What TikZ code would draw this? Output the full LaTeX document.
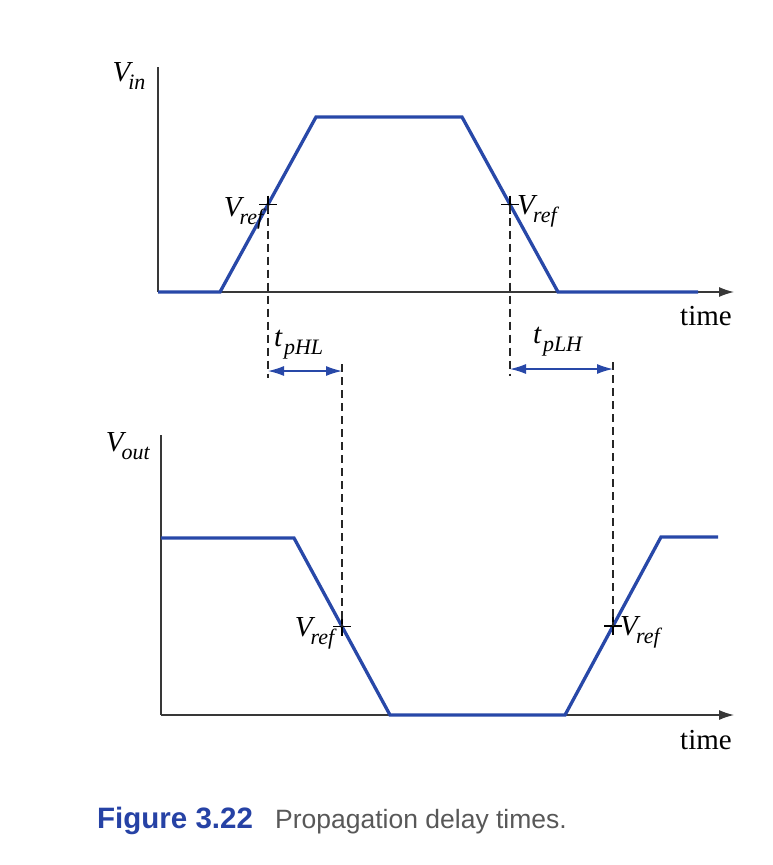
\documentclass[tikz,border=0pt]{standalone}
\usepackage{fontspec}
\setmainfont{Liberation Serif}
\setsansfont{Liberation Sans}
\usetikzlibrary{arrows.meta, calc}
\definecolor{WaveBlue}{RGB}{40,72,168}
\definecolor{CaptionBlue}{RGB}{38,66,165}
\definecolor{CaptionGray}{RGB}{88,88,88}
\newcommand{\sig}[3][-0.16em]{\textit{#2\/}\kern#1\raisebox{-0.28em}{\fontsize{22}{22}\selectfont\textit{#3}}}

\begin{document}
\begin{tikzpicture}[x=1pt, y=-1pt, font=\fontsize{29}{32}\selectfont]
    \tikzset{
        axis/.style={draw=black!78, line width=1.3pt},
        timeaxis/.style={axis, -{Latex[length=15pt, width=10pt]}},
        wave/.style={draw=WaveBlue, line width=3.3pt, line join=miter},
        guide/.style={draw=black!85, line width=1.3pt, dash pattern=on 8pt off 5pt},
        delay/.style={draw=WaveBlue, line width=1.3pt,
            {Latex[length=16pt, width=10pt]}-{Latex[length=16pt, width=10pt]}},
        refmark/.style={draw=black, line width=1.1pt},
        lbl/.style={inner sep=0pt}
    }
    \useasboundingbox (0,0) rectangle (772,865);
    % input signal
    \coordinate (inTop) at (158,67);
    \coordinate (inO) at (158,292);
    \coordinate (inEnd) at (734,292);
    \coordinate (inA) at (220,292);
    \coordinate (inB) at (316,117);
    \coordinate (inC) at (462,117);
    \coordinate (inD) at (558,292);
    \coordinate (inF) at (698,292);
    \coordinate (vr1) at ($(inA)!0.5!(inB)$);
    \coordinate (vr2) at ($(inC)!0.5!(inD)$);
    \draw[axis] (inTop) -- (inO);
    \draw[timeaxis] (inO) -- (inEnd);
    \draw[wave] (inO) -- (inA) -- (inB) -- (inC) -- (inD) -- (inF);
    \node[lbl] (vin) at (129,76) {\sig{V}{in}};
    \node[lbl] (time1) at (706,316) {time};
    % output signal
    \coordinate (outTop) at (161,435);
    \coordinate (outO) at (161,715);
    \coordinate (outEnd) at (734,715);
    \coordinate (outS) at (161,538);
    \coordinate (outA) at (294,538);
    \coordinate (outB) at (390,715);
    \coordinate (outC) at (565,715);
    \coordinate (outD) at (661,537);
    \coordinate (outF) at (718,537);
    \coordinate (vr3) at ($(outA)!0.5!(outB)$);
    \coordinate (vr4) at ($(outC)!0.5!(outD)$);
    \draw[axis] (outTop) -- (outO);
    \draw[timeaxis] (outO) -- (outEnd);
    \draw[wave] (outS) -- (outA) -- (outB) -- (outC) -- (outD) -- (outF);
    \node[lbl] (vout) at (128,446) {\sig{V}{out}};
    \node[lbl] (time2) at (706,740) {time};
    % reference crossings
    \draw[refmark] (vr1) +(-9,0) -- +(9,0) +(0,-9) -- +(0,9);
    \draw[refmark] (vr2) +(-9,0) -- +(9,0) +(0,-9) -- +(0,9);
    \draw[refmark] (vr3) +(-9,0) -- +(9,0) +(0,-9) -- +(0,9);
    \draw[refmark] (vr4) +(-9,0) -- +(9,0) +(0,-9) -- +(0,9);
    \node[lbl, anchor=base east] (ref1) at ($(vr1)+(-2,12)$) {\sig{V}{ref}};
    \node[lbl, anchor=base west] (ref2) at ($(vr2)+(7,10)$) {\sig{V}{ref}};
    \node[lbl, anchor=base east] (ref3) at ($(vr3)+(-5,10)$) {\sig{V}{ref}};
    \node[lbl, anchor=base west] (ref4) at ($(vr4)+(7,9)$) {\sig{V}{ref}};
    % delay markers
    \coordinate (hlA) at (vr1 |- 0,371);
    \coordinate (hlB) at (vr3 |- 0,371);
    \coordinate (lhA) at (vr2 |- 0,369);
    \coordinate (lhB) at (vr4 |- 0,369);
    \draw[guide] (vr1) -- ($(hlA)+(0,7)$);
    \draw[guide] ($(hlB)+(0,-7)$) -- (vr3);
    \draw[guide] (vr2) -- ($(lhA)+(0,7)$);
    \draw[guide] ($(lhB)+(0,-7)$) -- (vr4);
    \draw[delay] (hlA) -- (hlB);
    \draw[delay] (lhA) -- (lhB);
    \node[lbl, anchor=base west] (tphl) at (274,346) {\sig[0.04em]{t}{pHL}};
    \node[lbl, anchor=base west] (tplh) at (533,343) {\sig[0.04em]{t}{pLH}};
    % caption
    \node[lbl, anchor=base west, font=\sffamily\bfseries\fontsize{29.5}{32}\selectfont,
        text=CaptionBlue] (capnum) at (97,828) {Figure 3.22};
    \node[lbl, anchor=base west, font=\sffamily\fontsize{26.5}{29}\selectfont,
        text=CaptionGray] (captext) at (275,828) {Propagation delay times.};
\end{tikzpicture}
\end{document}
